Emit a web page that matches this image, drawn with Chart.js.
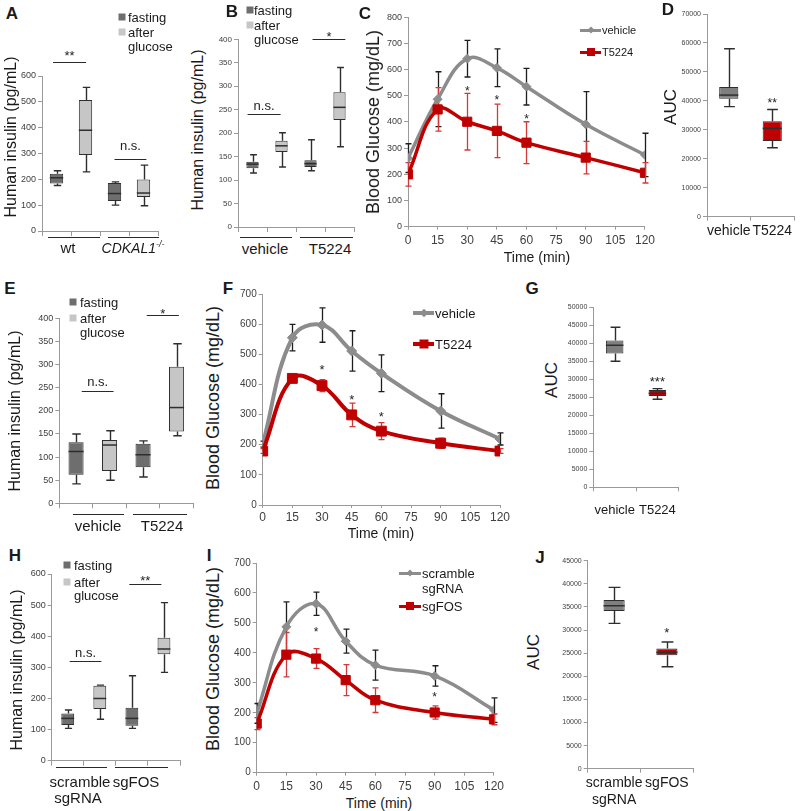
<!DOCTYPE html>
<html><head><meta charset="utf-8">
<script src="https://cdn.jsdelivr.net/npm/chart.js@4.4.1/dist/chart.umd.min.js"></script>
<style>
html,body{margin:0;padding:0;background:#fff;}
#wrap{position:relative;width:800px;height:811px;overflow:hidden;background:#fff;font-family:"Liberation Sans",Arial,sans-serif;color:#1a1a1a;}
#wrap canvas{position:absolute;}
.t{position:absolute;white-space:nowrap;line-height:1;}
.hl{position:absolute;height:0;border-top:1px solid #2a2a2a;}
.sq{position:absolute;transform:translate(-50%,-50%);}
</style></head>
<body><div id="wrap"></div>
<script>
// ================= DATA =================
// Panel A (human insulin, pg/mL)
const catsA = ['wt fasting', 'wt after glucose', 'CDKAL1 fasting', 'CDKAL1 after glucose'];
const minA = [176, 229, 100, 98];
const q1A  = [184, 294, 116, 132];
const medA = [206, 390, 145, 147];
const q3A  = [222, 507, 186, 199];
const maxA = [233, 556, 190, 255];
const ticksA = [0, 100, 200, 300, 400, 500, 600];

// Panel B
const catsB = ['vehicle fasting', 'vehicle after glucose', 'T5224 fasting', 'T5224 after glucose'];
const minB = [115, 128, 120, 171];
const q1B  = [125, 160, 128, 228];
const medB = [134, 173, 135, 255];
const q3B  = [139, 184, 142, 287];
const maxB = [154, 201, 186, 340];
const ticksB = [0, 50, 100, 150, 200, 250, 300, 350, 400];

// Panel C (blood glucose, mg/dL)
const timeMin = [0, 15, 30, 45, 60, 90, 120];
const timeTicks = [0, 15, 30, 45, 60, 75, 90, 105, 120];
const vehC   = [262, 487, 642, 607, 535, 391, 274];
const vehCsd = [55, 105, 70, 72, 70, 125, 83];
const t5C    = [200, 448, 401, 366, 321, 264, 206];
const t5Csd  = [45, 83, 108, 102, 80, 62, 39];
const ticksC = [0, 100, 200, 300, 400, 500, 600, 700, 800];

// Panel D (AUC)
const catsD = ['vehicle', 'T5224'];
const minD = [38000, 23800];
const q1D  = [40700, 26100];
const medD = [42000, 30500];
const q3D  = [44800, 33000];
const maxD = [58000, 37000];
const ticksD = [0, 10000, 20000, 30000, 40000, 50000, 60000, 70000];

// Panel E
const catsE = ['vehicle fasting', 'vehicle after glucose', 'T5224 fasting', 'T5224 after glucose'];
const minE = [42, 50, 57, 146];
const q1E  = [62, 70, 78, 155];
const medE = [112, 126, 105, 207];
const q3E  = [132, 137, 129, 295];
const maxE = [150, 157, 135, 345];
const ticksE = [0, 50, 100, 150, 200, 250, 300, 350, 400];

// Panel F
const vehF   = [202, 555, 597, 511, 437, 312, 219];
const vehFsd = [10, 44, 57, 67, 61, 57, 20];
const t5F    = [179, 420, 396, 299, 245, 205, 179];
const t5Fsd  = [8, 10, 20, 39, 28, 17, 8];
const ticksF = [0, 100, 200, 300, 400, 500, 600, 700];

// Panel G
const catsG = ['vehicle', 'T5224'];
const minG = [35000, 24450];
const q1G  = [37200, 25370];
const medG = [39450, 26100];
const q3G  = [40750, 27040];
const maxG = [44450, 27400];
const ticksG = [0, 5000, 10000, 15000, 20000, 25000, 30000, 35000, 40000, 45000, 50000];

// Panel H
const catsH = ['scramble fasting', 'scramble after glucose', 'sgFOS fasting', 'sgFOS after glucose'];
const minH = [104, 133, 104, 284];
const q1H  = [115, 166, 112, 342];
const medH = [136, 200, 136, 359];
const q3H  = [152, 241, 170, 395];
const maxH = [163, 243, 273, 508];
const ticksH = [0, 100, 200, 300, 400, 500, 600];

// Panel I
const scrI   = [198, 487, 564, 439, 359, 323, 209];
const scrIsd = [33, 83, 39, 40, 50, 34, 41];
const sgI    = [164, 394, 381, 309, 242, 201, 178];
const sgIsd  = [20, 74, 33, 52, 41, 22, 18];
const ticksI = [0, 100, 200, 300, 400, 500, 600, 700];

// Panel J
const catsJ = [['scramble', 'sgRNA'], 'sgFOS'];
const minJ = [31430, 22060];
const q1J  = [34100, 24520];
const medJ = [35260, 25160];
const q3J  = [36480, 26030];
const maxJ = [39230, 27400];
const ticksJ = [0, 5000, 10000, 15000, 20000, 25000, 30000, 35000, 40000, 45000];

// significance annotations (category index / value units)
const sigA = [{from:-0.12, to:1.02, y:654, text:'**', ty:9}, {from:2.0, to:3.1, y:279, text:'n.s.', ty:12}];
const sigB = [{from:-0.17, to:0.97, y:241, text:'n.s.', ty:7}, {from:2.07, to:3.2, y:401, text:'*', ty:5}];
const sigE = [{from:0.17, to:1.12, y:243, text:'n.s.', ty:8}, {from:2.11, to:3.07, y:407, text:'*', ty:4}];
const sigH = [{from:0.06, to:1.05, y:320, text:'n.s.', ty:8}, {from:1.92, to:2.92, y:568, text:'**', ty:6}];
const starsC = [{x:30, y:529, text:'*'}, {x:45, y:494, text:'*'}, {x:60, y:424, text:'*'}];
const starsF = [{x:30, y:459, text:'*'}, {x:45, y:359, text:'*'}, {x:60, y:302, text:'*'}];
const starsI = [{x:30, y:478, text:'*'}, {x:90, y:261, text:'*'}];
const starsD = [{x:1, y:40300, text:'**'}];
const starsG = [{x:1, y:30280, text:'***'}];
const starsJ = [{x:1, y:30160, text:'*'}];

// ================= STYLE =================
const FF = '"Liberation Sans", Arial, sans-serif';
const AX = '#9a9a9a';
const TK = '#404040';
const FAST = '#6e6e6e', AFTER = '#c6c6c6';
const GRAYL = '#8c8c8c', RED = '#c00000', REDERR = '#d03a3a', BLKERR = '#1e1e1e';
Chart.defaults.font.family = FF;
Chart.defaults.color = TK;

const wrap = document.getElementById('wrap');

function makeCanvas(g) {
  const x0 = Math.round(g.left - g.yw), y0 = Math.round(g.top - g.pt);
  const w = Math.round(g.right + g.pr - x0), h = Math.round(g.bottom + g.xh - y0);
  g.yw = g.left - x0; g.pt = g.top - y0; g.pr = x0 + w - g.right; g.xh = y0 + h - g.bottom;
  const c = document.createElement('canvas');
  c.width = w; c.height = h;
  c.style.left = x0 + 'px'; c.style.top = y0 + 'px';
  c.style.width = w + 'px'; c.style.height = h + 'px';
  wrap.appendChild(c);
  return c;
}
function base(g) {
  return {
    responsive: false, animation: false, devicePixelRatio: 1, events: [],
    layout: {padding: {left: 0, top: g.pt, right: g.pr, bottom: 0}},
    plugins: {legend: {display: false}, tooltip: {enabled: false}, title: {display: false}}
  };
}
function yAxis(g, arr, fs) {
  return {
    type: 'linear', min: arr[0], max: arr[arr.length - 1],
    ticks: {stepSize: arr[1] - arr[0], autoSkip: false, font: {size: fs}, color: TK, padding: 2, callback: v => String(v)},
    grid: {drawOnChartArea: false, drawTicks: true, tickLength: 4, color: AX, lineWidth: 1},
    border: {display: true, color: AX, width: 1},
    afterFit(s) { s.width = g.yw; }
  };
}
function whiskers(st) {
  return {
    id: 'whiskers',
    afterDatasetsDraw(chart) {
      const ctx = chart.ctx, ys = chart.scales.y, meta = chart.getDatasetMeta(0);
      ctx.save();
      meta.data.forEach((bar, i) => {
        const x = Math.round(bar.x) + 0.5, hw = bar.width / 2, cw = bar.width * 0.28;
        const pMax = ys.getPixelForValue(st.max[i]), pQ3 = ys.getPixelForValue(st.q3[i]);
        const pQ1 = ys.getPixelForValue(st.q1[i]), pMin = ys.getPixelForValue(st.min[i]);
        const pMed = ys.getPixelForValue(st.med[i]);
        ctx.strokeStyle = '#2e2e2e'; ctx.lineWidth = 1.4;
        ctx.beginPath();
        ctx.moveTo(x, pQ3); ctx.lineTo(x, pMax);
        ctx.moveTo(x - cw, pMax); ctx.lineTo(x + cw, pMax);
        ctx.moveTo(x, pQ1); ctx.lineTo(x, pMin);
        ctx.moveTo(x - cw, pMin); ctx.lineTo(x + cw, pMin);
        ctx.stroke();
        ctx.lineWidth = 1.5;
        ctx.beginPath(); ctx.moveTo(bar.x - hw, pMed); ctx.lineTo(bar.x + hw, pMed); ctx.stroke();
      });
      ctx.restore();
    }
  };
}
function notes(items, fs) {
  return {
    id: 'notes',
    afterDraw(chart) {
      const ctx = chart.ctx, xs = chart.scales.x, ys = chart.scales.y;
      items.forEach(it => {
        const f = it.fs || fs;
        ctx.save();
        ctx.font = f + 'px ' + FF; ctx.fillStyle = '#222'; ctx.strokeStyle = '#2a2a2a'; ctx.lineWidth = 1;
        ctx.textAlign = 'center'; ctx.textBaseline = 'alphabetic';
        const k = /^\*+$/.test(it.text) ? 0.57 : 0.27;
        const py = ys.getPixelForValue(it.y);
        if (it.from !== undefined) {
          const x1 = xs.getPixelForValue(it.from), x2 = xs.getPixelForValue(it.to);
          const yy = Math.round(py) + 0.5;
          ctx.beginPath(); ctx.moveTo(x1, yy); ctx.lineTo(x2, yy); ctx.stroke();
          ctx.fillText(it.text, (x1 + x2) / 2, py - it.ty + k * f);
        } else {
          ctx.fillText(it.text, xs.getPixelForValue(it.x), py + k * f);
        }
        ctx.restore();
      });
    }
  };
}
function errorBars(list) {
  return {
    id: 'errbars',
    beforeDatasetsDraw(chart) {
      const ctx = chart.ctx, ys = chart.scales.y;
      list.forEach((s, di) => {
        const meta = chart.getDatasetMeta(di);
        ctx.save(); ctx.strokeStyle = s.errColor; ctx.lineWidth = 1.3;
        meta.data.forEach((p, j) => {
          const x = Math.round(p.x) + 0.5;
          const yT = ys.getPixelForValue(s.vals[j] + s.sd[j]);
          const yB = ys.getPixelForValue(s.vals[j] - s.sd[j]);
          ctx.beginPath();
          ctx.moveTo(x, yT); ctx.lineTo(x, yB);
          ctx.moveTo(x - 3, yT); ctx.lineTo(x + 3, yT);
          ctx.moveTo(x - 3, yB); ctx.lineTo(x + 3, yB);
          ctx.stroke();
        });
        ctx.restore();
      });
    }
  };
}
function boxChart(g, cats, st, colors, yTicks, o) {
  const cv = makeCanvas(g);
  const opts = base(g);
  opts.scales = {
    x: {
      type: 'category', offset: true,
      grid: {offset: true, drawOnChartArea: false, drawTicks: true, tickLength: o.xTickLen || 5, color: AX},
      border: {display: true, color: AX},
      ticks: {display: !!o.xLabels, font: {size: o.xFont || 15}, color: '#1a1a1a', padding: o.xPad || 2, maxRotation: 0, autoSkip: false},
      afterFit(s) { s.height = g.xh; }
    },
    y: yAxis(g, yTicks, o.yFont)
  };
  new Chart(cv, {
    type: 'bar',
    data: {labels: cats, datasets: [{
      data: st.q1.map((q, i) => [q, st.q3[i]]),
      backgroundColor: colors, borderColor: '#2e2e2e', borderWidth: 1, borderSkipped: false,
      barPercentage: o.barPct || 0.45, categoryPercentage: 1
    }]},
    options: opts,
    plugins: [whiskers(st), notes(o.notes || [], o.noteFont || 13)]
  });
}
function lineChart(g, times, xTicks, series, yTicks, o) {
  const cv = makeCanvas(g);
  const opts = base(g);
  opts.scales = {
    x: {
      type: 'linear', min: xTicks[0], max: xTicks[xTicks.length - 1],
      ticks: {stepSize: xTicks[1] - xTicks[0], autoSkip: false, font: {size: o.xFont}, color: TK, padding: o.xPad, maxRotation: 0, callback: v => String(v)},
      grid: {drawOnChartArea: false, drawTicks: true, tickLength: 3, color: AX},
      border: {display: true, color: AX},
      afterFit(s) { s.height = g.xh; }
    },
    y: yAxis(g, yTicks, o.yFont)
  };
  new Chart(cv, {
    type: 'line',
    data: {datasets: series.map(s => ({
      data: times.map((t, i) => ({x: t, y: s.vals[i]})),
      borderColor: s.color, backgroundColor: s.color, borderWidth: s.lw,
      pointStyle: s.ps, pointRadius: s.pr, pointBorderWidth: 1,
      pointBackgroundColor: s.color, pointBorderColor: s.color,
      tension: 0.4, fill: false, order: s.order
    }))},
    options: opts,
    plugins: [errorBars(series), notes(o.notes || [], o.noteFont || 12)]
  });
}

// ================= HTML TEXT HELPERS =================
function T(text, x, y, o = {}) {
  const d = document.createElement('div');
  d.className = 't'; d.innerHTML = text;
  d.style.left = x + 'px'; d.style.top = y + 'px';
  d.style.fontSize = (o.size || 13) + 'px';
  d.style.color = o.color || '#1a1a1a';
  if (o.bold) d.style.fontWeight = 'bold';
  if (o.italic) d.style.fontStyle = 'italic';
  d.style.transform = o.rot ? 'translate(-50%,-50%) rotate(-90deg)' : (o.align === 'l' ? 'translate(0,-50%)' : 'translate(-50%,-50%)');
  wrap.appendChild(d);
}
function HL(x1, x2, y) {
  const d = document.createElement('div'); d.className = 'hl';
  d.style.left = x1 + 'px'; d.style.width = (x2 - x1) + 'px'; d.style.top = y + 'px';
  wrap.appendChild(d);
}
function SQ(x, y, s, color, rot) {
  const d = document.createElement('div'); d.className = 'sq';
  d.style.left = x + 'px'; d.style.top = y + 'px'; d.style.width = s + 'px'; d.style.height = s + 'px';
  d.style.background = color;
  if (rot) d.style.transform = 'translate(-50%,-50%) rotate(45deg)';
  wrap.appendChild(d);
}
function LINE(x1, x2, y, lw, color) {
  const d = document.createElement('div');
  d.style.position = 'absolute'; d.style.left = x1 + 'px'; d.style.width = (x2 - x1) + 'px';
  d.style.top = (y - lw / 2) + 'px'; d.style.height = lw + 'px'; d.style.background = color;
  wrap.appendChild(d);
}
function boxLegend(sqx, tx, y1, y2, y3, fs) {
  SQ(sqx, y1, 7, FAST); SQ(sqx, y2, 7, AFTER);
  T('fasting', tx, y1, {size: fs, align: 'l'});
  T('after', tx, y2, {size: fs, align: 'l'});
  T('glucose', tx, y3, {size: fs, align: 'l'});
}
function lineLegend(x1, x2, y, color, lw, marker, ms) {
  LINE(x1, x2, y, lw, color);
  SQ((x1 + x2) / 2, y, ms, color, marker === 'd');
}

// ================= CHARTS =================
const stA = {min: minA, q1: q1A, med: medA, q3: q3A, max: maxA};
const stB = {min: minB, q1: q1B, med: medB, q3: q3B, max: maxB};
const stD = {min: minD, q1: q1D, med: medD, q3: q3D, max: maxD};
const stE = {min: minE, q1: q1E, med: medE, q3: q3E, max: maxE};
const stG = {min: minG, q1: q1G, med: medG, q3: q3G, max: maxG};
const stH = {min: minH, q1: q1H, med: medH, q3: q3H, max: maxH};
const stJ = {min: minJ, q1: q1J, med: medJ, q3: q3J, max: maxJ};
const boxCols4 = [FAST, AFTER, FAST, AFTER];
const aucCols = ['#7f7f7f', RED];

boxChart({left: 42, right: 158, top: 76, bottom: 231, yw: 26, xh: 8, pt: 32, pr: 6}, catsA, stA, boxCols4, ticksA, {yFont: 9, notes: sigA, barPct: 0.46});
boxChart({left: 238, right: 354, top: 39.3, bottom: 227, yw: 26, xh: 8, pt: 20, pr: 6}, catsB, stB, boxCols4, ticksB, {yFont: 8, notes: sigB, barPct: 0.42});
boxChart({left: 707, right: 794, top: 14, bottom: 216.7, yw: 28, xh: 26, pt: 8, pr: 5}, catsD, stD, aucCols, ticksD, {yFont: 7, xLabels: true, xFont: 14, xTickLen: 4, xPad: 2.5, notes: starsD, noteFont: 12, barPct: 0.44});
boxChart({left: 59.3, right: 193.3, top: 318.3, bottom: 503.3, yw: 26, xh: 8, pt: 20, pr: 6}, catsE, stE, boxCols4, ticksE, {yFont: 9, notes: sigE, barPct: 0.45});
boxChart({left: 593.3, right: 683.3, top: 307.3, bottom: 487.3, yw: 28, xh: 32, pt: 8, pr: 5}, catsG, stG, aucCols, ticksG, {yFont: 7, xLabels: true, xFont: 13, xTickLen: 4, xPad: 11, notes: starsG, noteFont: 13, barPct: 0.41});
boxChart({left: 51.7, right: 180, top: 574, bottom: 760.7, yw: 26, xh: 8, pt: 10, pr: 6}, catsH, stH, boxCols4, ticksH, {yFont: 9, notes: sigH, barPct: 0.4});
boxChart({left: 587.7, right: 693.3, top: 560.7, bottom: 768.7, yw: 28, xh: 44, pt: 8, pr: 5}, catsJ, stJ, aucCols, ticksJ, {yFont: 7, xLabels: true, xFont: 14, xTickLen: 4, xPad: 2.5, notes: starsJ, noteFont: 13, barPct: 0.4});

lineChart({left: 408, right: 645, top: 17.3, bottom: 226.7, yw: 28, xh: 24, pt: 8, pr: 14}, timeMin, timeTicks, [
  {vals: vehC, sd: vehCsd, color: GRAYL, errColor: BLKERR, lw: 3.5, ps: 'rectRot', pr: 4.5, order: 1},
  {vals: t5C, sd: t5Csd, color: RED, errColor: REDERR, lw: 3.5, ps: 'rect', pr: 6.5, order: 0}
], ticksC, {yFont: 9, xFont: 12, xPad: 4, notes: starsC, noteFont: 12});
lineChart({left: 262.7, right: 500, top: 294, bottom: 505, yw: 28, xh: 22, pt: 8, pr: 14}, timeMin, timeTicks, [
  {vals: vehF, sd: vehFsd, color: GRAYL, errColor: BLKERR, lw: 4, ps: 'rectRot', pr: 5, order: 1},
  {vals: t5F, sd: t5Fsd, color: RED, errColor: REDERR, lw: 4, ps: 'rect', pr: 7, order: 0}
], ticksF, {yFont: 10, xFont: 12, xPad: 2.5, notes: starsF, noteFont: 13});
lineChart({left: 256.7, right: 494, top: 562.7, bottom: 772.7, yw: 28, xh: 22, pt: 8, pr: 14}, timeMin, timeTicks, [
  {vals: scrI, sd: scrIsd, color: GRAYL, errColor: BLKERR, lw: 3.5, ps: 'rectRot', pr: 4.5, order: 1},
  {vals: sgI, sd: sgIsd, color: RED, errColor: REDERR, lw: 3.5, ps: 'rect', pr: 6.5, order: 0}
], ticksI, {yFont: 10, xFont: 12, xPad: 4, notes: starsI, noteFont: 12});

// ================= TEXT =================
// panel letters
[['A', 12, 13], ['B', 232, 11], ['C', 365, 13], ['D', 668, 9], ['E', 10, 288], ['F', 228, 288],
 ['G', 532, 288], ['H', 15, 555], ['I', 209, 555], ['J', 540, 557]].forEach(([l, x, y]) => T(l, x, y, {size: 17, bold: true}));

// axis titles
T('Human insulin (pg/mL)', 11, 137, {size: 16, rot: true});
T('Human insulin (pg/mL)', 198, 130, {size: 16, rot: true});
T('Blood Glucose (mg/dL)', 373, 122, {size: 18, rot: true});
T('AUC', 670, 107, {size: 17, rot: true});
T('Human insulin (pg/mL)', 15, 411, {size: 16, rot: true});
T('Blood Glucose (mg/dL)', 213, 398, {size: 18, rot: true});
T('AUC', 551, 380, {size: 17, rot: true});
T('Human insulin (pg/mL)', 17, 670, {size: 16, rot: true});
T('Blood Glucose (mg/dL)', 213, 659, {size: 18, rot: true});
T('AUC', 533, 652, {size: 17, rot: true});
T('Time (min)', 537, 257, {size: 14});
T('Time (min)', 381, 533, {size: 14});
T('Time (min)', 379, 803, {size: 14});

// box legends
boxLegend(122, 128, 17, 32, 46, 13);
boxLegend(249.5, 254, 10, 25, 39, 13);
boxLegend(72.5, 80, 302, 318, 332, 13);
boxLegend(66.7, 74, 565, 582, 595, 13);

// line legends
lineLegend(580, 601, 30, GRAYL, 3, 'd', 5);
T('vehicle', 602, 30, {size: 11, align: 'l'});
lineLegend(580, 601, 52, RED, 3, 's', 8);
T('T5224', 602, 52, {size: 11, align: 'l'});
lineLegend(413, 434, 313, GRAYL, 3.5, 'd', 6);
T('vehicle', 435, 313, {size: 13, align: 'l'});
lineLegend(413, 434, 344, RED, 3.5, 's', 9);
T('T5224', 435, 344, {size: 13, align: 'l'});
lineLegend(399, 421, 573, GRAYL, 3, 'd', 5);
T('scramble', 422, 573, {size: 13, align: 'l'});
T('sgRNA', 422, 588, {size: 13, align: 'l'});
lineLegend(399, 421, 606, RED, 3, 's', 8);
T('sgFOS', 422, 606, {size: 13, align: 'l'});

// group labels under box panels
HL(48, 100, 237); HL(108, 159, 237);
T('wt', 68, 247, {size: 15});
T('CDKAL1<sup style="font-size:9px;vertical-align:6px">-/-</sup>', 133, 247, {size: 14, italic: true});
HL(240, 292, 237); HL(300, 353, 237);
T('vehicle', 265, 248, {size: 15});
T('T5224', 330, 248, {size: 15});
HL(73, 124, 514); HL(133, 187, 514);
T('vehicle', 98, 525, {size: 15});
T('T5224', 162, 525, {size: 15});
HL(56, 107, 767); HL(115, 168, 767);
T('scramble', 80, 781, {size: 15});
T('sgRNA', 78, 797, {size: 15});
T('sgFOS', 136, 781, {size: 15});
</script>
</body></html>
